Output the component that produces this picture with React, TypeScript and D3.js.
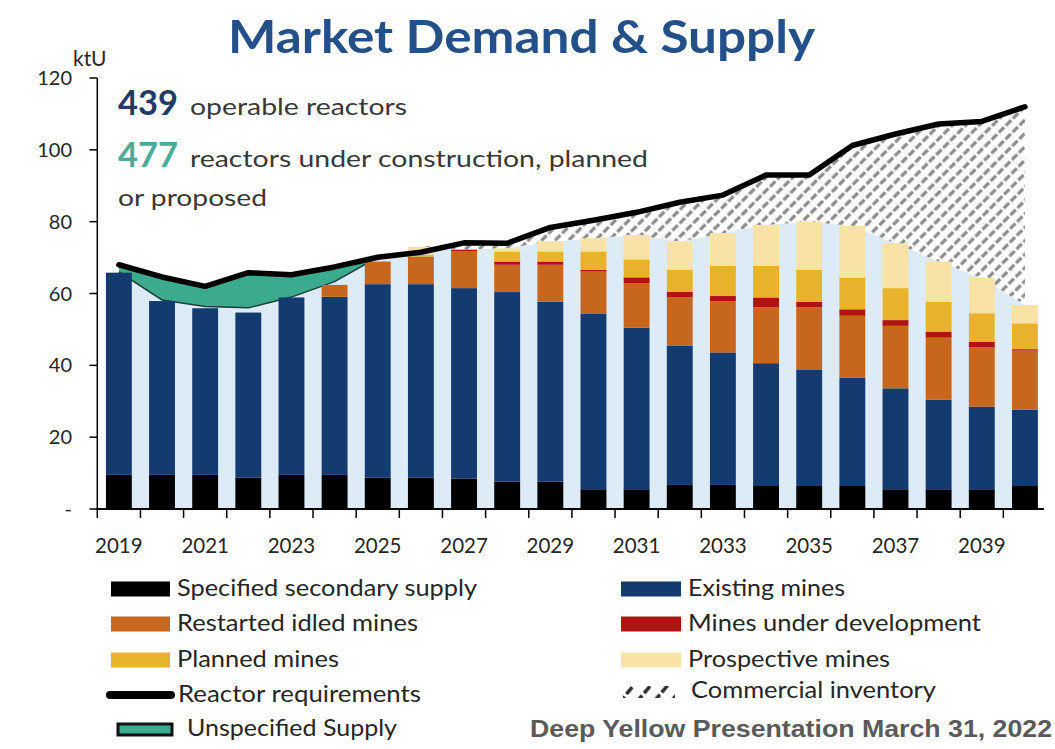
import React from 'react';
import * as d3 from 'd3';

const years = [2019, 2020, 2021, 2022, 2023, 2024, 2025, 2026, 2027, 2028, 2029, 2030, 2031, 2032, 2033, 2034, 2035, 2036, 2037, 2038, 2039, 2040];
const secondary = [9.5, 9.5, 9.5, 8.7, 9.5, 9.5, 8.7, 8.7, 8.5, 7.6, 7.6, 5.5, 5.5, 6.7, 6.7, 6.4, 6.4, 6.4, 5.5, 5.5, 5.5, 6.4];
const existing = [56.3, 48.4, 46.4, 46.0, 49.4, 49.6, 53.9, 53.9, 53.0, 52.8, 50.1, 48.8, 45.0, 38.7, 36.9, 34.2, 32.3, 30.2, 28.1, 24.9, 23.0, 21.2];
const restarted = [0, 0, 0, 0, 0, 3.3, 6.3, 7.7, 10.2, 7.6, 10.3, 11.8, 12.4, 13.6, 14.2, 15.6, 17.5, 17.2, 17.4, 17.3, 16.5, 16.5];
const development = [0, 0, 0, 0, 0, 0, 0, 0, 0.5, 0.9, 0.9, 0.5, 1.6, 1.5, 1.5, 2.7, 1.5, 1.8, 1.6, 1.7, 1.6, 0.4];
const planned = [0, 0, 0, 0, 0, 0, 0, 0.5, 0, 2.8, 2.8, 5.1, 5.0, 6.1, 8.4, 8.8, 8.9, 8.8, 8.9, 8.3, 7.9, 7.2];
const prospective = [0, 0, 0, 0, 0, 0, 0, 2.2, 0, 0.9, 2.8, 3.7, 6.8, 7.9, 9.1, 11.4, 13.4, 14.4, 12.5, 11.2, 9.8, 5.1];
const requirements = [68, 64.6, 62, 65.8, 65.2, 67.4, 70.1, 71.5, 74.1, 74, 78.4, 80.4, 82.6, 85.4, 87.4, 93, 93, 101.2, 104.4, 107.2, 107.9, 112];
// Unspecified supply (2019-2025)
const unspecified = [2, 6.4, 5.6, 9.8, 6.2, 4.1, 0];

const yTicks = [0, 20, 40, 60, 80, 100, 120];
const yTickLabels = ['-', '20', '40', '60', '80', '100', '120'];
const labelYears = [2019, 2021, 2023, 2025, 2027, 2029, 2031, 2033, 2035, 2037, 2039];

const seriesKeys = ['secondary', 'existing', 'restarted', 'development', 'planned', 'prospective'];
const seriesColors: Record<string, string> = {
  secondary: '#000000',
  existing: '#143B6F',
  restarted: '#C6671D',
  development: '#B01412',
  planned: '#E8B22A',
  prospective: '#F9E2A6',
};
const TEAL = '#3CAA8D';
const LIGHT_BLUE = '#DDEBF7';
const FONT = "Lato, 'Open Sans', sans-serif";

export default function App() {
  const W = 1055;
  const H = 749;
  const x = d3.scaleBand<number>().domain(years).range([97.3, 1046.5]).paddingInner(0.4).paddingOuter(0.2);
  const y = d3.scaleLinear().domain([0, 120]).range([509, 78]);
  const cx = (i: number) => (x(years[i]) as number) + x.bandwidth() / 2;

  const rows = years.map((yr, i) => ({
    year: yr,
    secondary: secondary[i],
    existing: existing[i],
    restarted: restarted[i],
    development: development[i],
    planned: planned[i],
    prospective: prospective[i],
  }));
  const stacked = d3.stack<any>().keys(seriesKeys)(rows);
  const totals = years.map((_, i) => secondary[i] + existing[i] + restarted[i] + development[i] + planned[i] + prospective[i]);
  const envelope = years.map((_, i) => (i < unspecified.length ? requirements[i] - unspecified[i] : totals[i]));
  const idx = years.map((_, i) => i);

  const lightArea = d3.area<number>().x((i) => cx(i)).y0(y(0)).y1((i) => y(envelope[i]))(idx) || '';
  const hatchIdx = idx.filter((i) => i >= unspecified.length - 1);
  const hatchArea = d3.area<number>()
    .x((i) => cx(i))
    .y0((i) => y(totals[i]))
    .y1((i) => y(Math.max(totals[i], requirements[i])))(hatchIdx) || '';
  const tealIdx = unspecified.map((_, i) => i);
  const tealArea = d3.area<number>()
    .x((i) => cx(i))
    .y0((i) => y(requirements[i] - unspecified[i]))
    .y1((i) => y(requirements[i]))(tealIdx) || '';
  const tealBottom = d3.line<number>().x((i) => cx(i)).y((i) => y(requirements[i] - unspecified[i]))(tealIdx) || '';
  const reqLine = d3.line<number>().x((i) => cx(i)).y((i) => y(requirements[i]))(idx) || '';

  const step = x.step();
  const gap = step - x.bandwidth();
  const boundaries = years.map((yr) => (x(yr) as number) - gap / 2);

  const legendLeft = [
    { label: 'Specified secondary supply', color: seriesColors.secondary, y: 589, w: 300 },
    { label: 'Restarted idled mines', color: seriesColors.restarted, y: 624, w: 241 },
    { label: 'Planned mines', color: seriesColors.planned, y: 660, w: 162 },
  ];
  const legendRight = [
    { label: 'Existing mines', color: seriesColors.existing, y: 589, w: 157 },
    { label: 'Mines under development', color: seriesColors.development, y: 624, w: 293 },
    { label: 'Prospective mines', color: seriesColors.prospective, y: 660, w: 202 },
  ];

  return (
    <svg width={W} height={H} style={{ position: 'absolute', left: 0, top: 0, background: '#fff' }} fontFamily={FONT}>
      <defs>
        <pattern id="hatch" width="9.5" height="10" patternUnits="userSpaceOnUse" patternTransform="rotate(45)">
          <rect width="9.5" height="10" fill="#ffffff" />
          <line x1="2" y1="0" x2="2" y2="10" stroke="#8a8a8a" strokeWidth="3.2" strokeDasharray="7.5 2.5" />
        </pattern>
        <pattern id="hatchLegend" width="13" height="12" patternUnits="userSpaceOnUse" patternTransform="rotate(40)">
          <rect width="13" height="12" fill="#ffffff" />
          <line x1="3" y1="0" x2="3" y2="12" stroke="#2a2a2a" strokeWidth="3.5" strokeDasharray="9 3" />
        </pattern>
      </defs>
      <rect width={W} height={H} fill="#fff" />

      {/* Title */}
      <text x={228} y={53} fontSize={46} fontWeight={700} fill="#24508A" textLength={587} lengthAdjust="spacingAndGlyphs">
        Market Demand &amp; Supply
      </text>

      {/* background areas */}
      <path d={lightArea} fill={LIGHT_BLUE} />
      <path d={hatchArea} fill="url(#hatch)" />
      <path d={tealArea} fill={TEAL} />
      <path d={tealBottom} fill="none" stroke="#1d3f39" strokeWidth={1.5} />

      {/* bars */}
      {stacked.map((s) => (
        <g key={s.key} fill={seriesColors[s.key]}>
          {s.map((d, i) =>
            d[1] - d[0] > 0 ? (
              <rect key={i} x={x(years[i])} width={x.bandwidth()} y={y(d[1])} height={y(d[0]) - y(d[1])} />
            ) : null
          )}
        </g>
      ))}

      {/* requirement line */}
      <path d={reqLine} fill="none" stroke="#000" strokeWidth={5.5} strokeLinejoin="round" strokeLinecap="round" />

      {/* axes */}
      <line x1={97.3} x2={97.3} y1={y(120)} y2={y(0)} stroke="#000" strokeWidth={1.5} />
      {yTicks.map((t, i) => (
        <g key={t}>
          <line x1={89.5} x2={97.3} y1={y(t)} y2={y(t)} stroke="#000" strokeWidth={1.5} />
          <text x={72} y={y(t)} dy="0.35em" fontSize={20} textAnchor="end" fill="#262626">
            {yTickLabels[i]}
          </text>
        </g>
      ))}
      <text x={73} y={66} fontSize={21} fill="#262626">ktU</text>
      <line x1={97.3} x2={1044} y1={y(0)} y2={y(0)} stroke="#000" strokeWidth={2} />
      {boundaries.map((bx, i) => (
        <line key={i} x1={bx} x2={bx} y1={y(0)} y2={y(0) + 9} stroke="#000" strokeWidth={1.5} />
      ))}
      {labelYears.map((yr) => (
        <text key={yr} x={(x(yr) as number) + x.bandwidth() / 2} y={553} fontSize={20.5} textAnchor="middle" fill="#262626">
          {yr}
        </text>
      ))}

      {/* annotation text */}
      <text x={118} y={115} fontSize={34} fontWeight={700} fill="#1F3B66" textLength={60} lengthAdjust="spacingAndGlyphs">439</text>
      <text x={190} y={115} fontSize={24} fill="#383838" textLength={217} lengthAdjust="spacingAndGlyphs">operable reactors</text>
      <text x={118} y={167} fontSize={34} fontWeight={700} fill="#4DAA97" textLength={60} lengthAdjust="spacingAndGlyphs">477</text>
      <text x={190} y={167} fontSize={24} fill="#383838" textLength={458} lengthAdjust="spacingAndGlyphs">reactors under construction, planned</text>
      <text x={118} y={206} fontSize={24} fill="#383838" textLength={149} lengthAdjust="spacingAndGlyphs">or proposed</text>

      {/* legend left */}
      {legendLeft.map((l) => (
        <g key={l.label}>
          <rect x={111} y={l.y - 7.5} width={59} height={15} fill={l.color} />
          <text x={177} y={l.y + 7} fontSize={23} fill="#262626" textLength={l.w} lengthAdjust="spacingAndGlyphs">{l.label}</text>
        </g>
      ))}
      <line x1={110} x2={171} y1={695} y2={695} stroke="#000" strokeWidth={8} strokeLinecap="round" />
      <text x={178} y={702} fontSize={23} fill="#262626" textLength={243} lengthAdjust="spacingAndGlyphs">Reactor requirements</text>
      <rect x={118} y={724} width={54} height={11} fill={TEAL} stroke="#111" strokeWidth={3} />
      <text x={187} y={736} fontSize={23} fill="#262626" textLength={210} lengthAdjust="spacingAndGlyphs">Unspecified Supply</text>

      {/* legend right */}
      {legendRight.map((l) => (
        <g key={l.label}>
          <rect x={621} y={l.y - 7.5} width={60} height={15} fill={l.color} />
          <text x={688} y={l.y + 7} fontSize={23} fill="#262626" textLength={l.w} lengthAdjust="spacingAndGlyphs">{l.label}</text>
        </g>
      ))}
      <rect x={623} y={686} width={52} height={12} fill="url(#hatchLegend)" />
      <text x={691} y={698} fontSize={23} fill="#262626" textLength={245} lengthAdjust="spacingAndGlyphs">Commercial inventory</text>

      <text x={530} y={737} fontSize={23} fontWeight={700} fill="#5a5a5a" fontFamily="'Liberation Sans', Arial, sans-serif" textLength={522} lengthAdjust="spacingAndGlyphs">
        Deep Yellow Presentation March 31, 2022
      </text>
    </svg>
  );
}
